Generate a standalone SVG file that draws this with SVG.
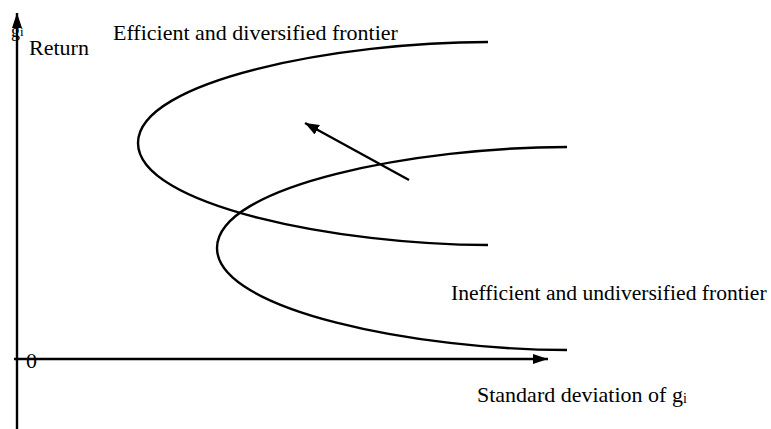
<svg xmlns="http://www.w3.org/2000/svg" width="771" height="429" viewBox="0 0 771 429">
<style>
text{font-family:"Liberation Serif","Times New Roman",serif;fill:#000;font-size:22px}
.sub{font-size:14px}
.ln{stroke:#000;stroke-width:2.4;fill:none}
</style>
<defs>
<marker id="ah" viewBox="0 0 15 10" markerUnits="userSpaceOnUse" markerWidth="15" markerHeight="10" refX="15" refY="5" orient="auto">
<path d="M0,0 L15,5 L0,10 z" fill="#000"/>
</marker>
<marker id="ah2" viewBox="0 0 14 11" markerUnits="userSpaceOnUse" markerWidth="14" markerHeight="11" refX="14" refY="5.5" orient="auto">
<path d="M0,0 L14,5.5 L0,11 z" fill="#000"/>
</marker>
</defs>
<rect width="771" height="429" fill="#fff"/>
<g id="connectors">
<line class="ln" x1="17" y1="429" x2="17" y2="13" marker-end="url(#ah)"/>
<line class="ln" x1="14" y1="359" x2="548" y2="359" marker-end="url(#ah)"/>
<line class="ln" x1="409" y1="180" x2="305" y2="123" stroke-width="2.8" marker-end="url(#ah2)"/>
</g>
<g id="efficient-frontier">
<path class="ln" d="M488,42 C340,42 138,80 138,143 C138,206 340,245 488,245"/>
<text x="113" y="40">Efficient and diversified frontier</text>
</g>
<g id="inefficient-frontier">
<path class="ln" d="M567,147 C419,147 217,185 217,248 C217,311 419,350 567,350"/>
<text x="451" y="300" style="font-size:21.6px">Inefficient and undiversified frontier</text>
</g>
<g id="labels">
<text x="11" y="37" style="font-size:18px">g</text><text x="20" y="36" style="font-size:13px">i</text>
<text x="29" y="55">Return</text>
<text x="26" y="368">0</text>
<text x="477" y="402">Standard deviation of g<tspan class="sub" dy="1">i</tspan></text>
</g>
</svg>
